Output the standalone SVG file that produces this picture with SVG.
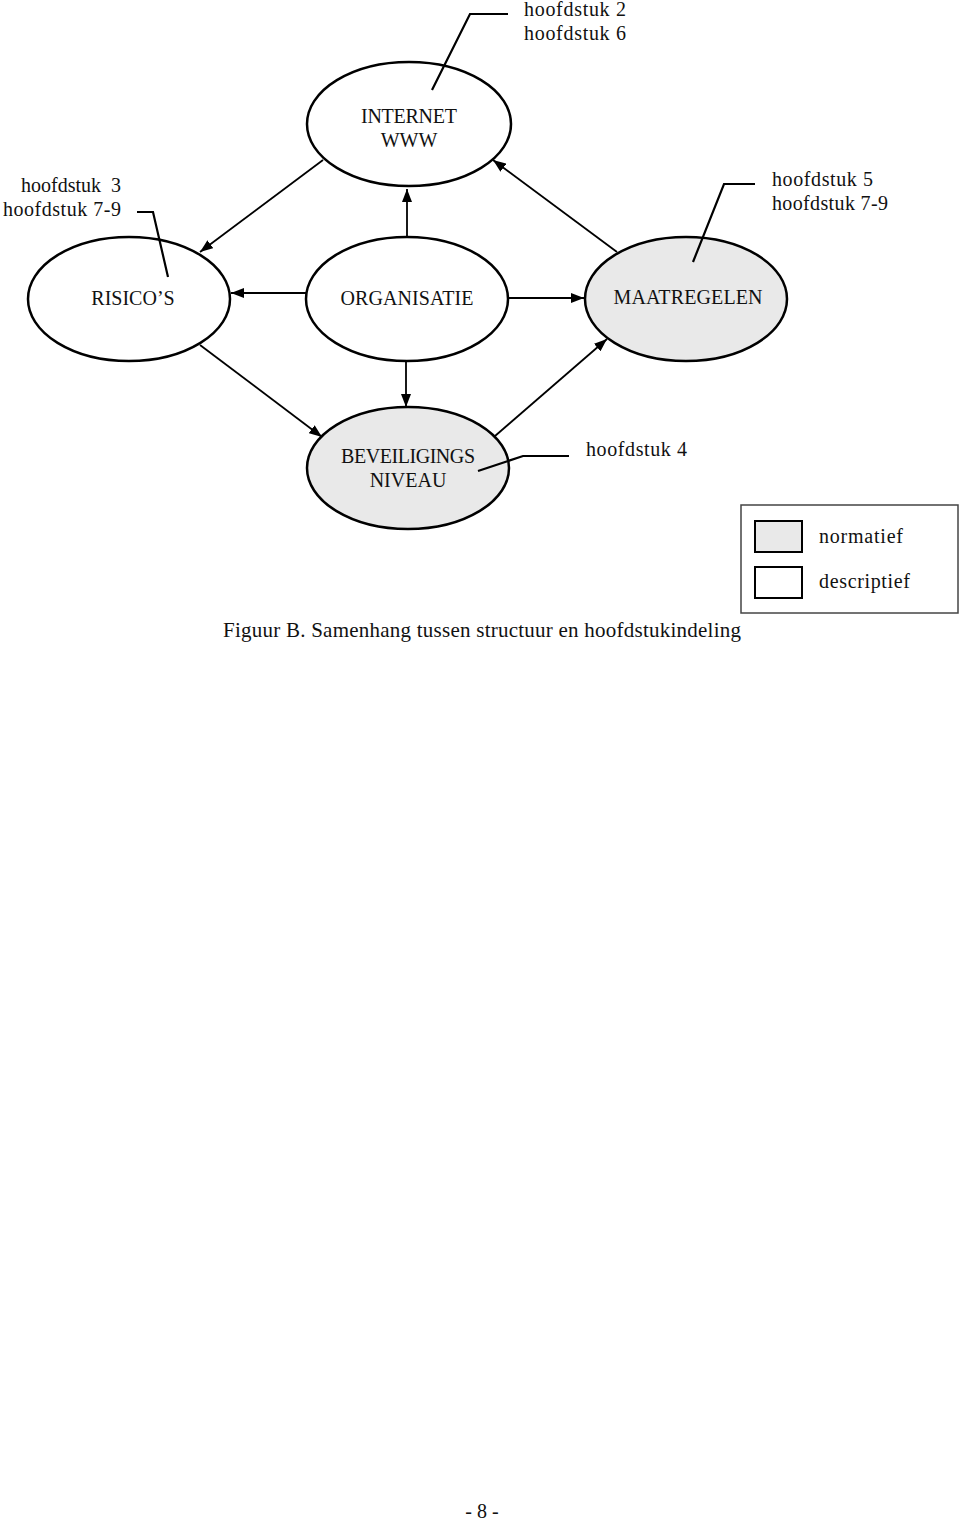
<svg xmlns="http://www.w3.org/2000/svg" width="960" height="1520" viewBox="0 0 960 1520">
<style>
.node{stroke:#000;stroke-width:2.5}
.wh{fill:#fff}
.gr{fill:#e9e9e9}
.t{font-family:"Liberation Serif","Times New Roman",serif;font-size:20px;fill:#111}
.c{text-anchor:middle}
.e{text-anchor:end}
.conn line{stroke:#000;stroke-width:1.8}
.call{fill:none;stroke:#000;stroke-width:2.2}
</style>
<defs>
<marker id="ah" viewBox="0 0 13 10" refX="13" refY="5" markerWidth="13" markerHeight="10" markerUnits="userSpaceOnUse" orient="auto">
<path d="M0,0 L13,5 L0,10 z" fill="#000"/>
</marker>
</defs>
<rect width="960" height="1520" fill="#fff"/>

<g id="connectors" class="conn">
<line x1="323" y1="160" x2="200" y2="252" marker-end="url(#ah)"/>
<line x1="407" y1="237" x2="407" y2="189" marker-end="url(#ah)"/>
<line x1="617" y1="252" x2="493" y2="160" marker-end="url(#ah)"/>
<line x1="307" y1="293" x2="231" y2="293" marker-end="url(#ah)"/>
<line x1="508" y1="298" x2="584" y2="298" marker-end="url(#ah)"/>
<line x1="200" y1="345" x2="322" y2="437" marker-end="url(#ah)"/>
<line x1="406" y1="361" x2="406" y2="407" marker-end="url(#ah)"/>
<line x1="495" y1="436" x2="607" y2="339" marker-end="url(#ah)"/>
</g>

<g id="internet">
<ellipse class="node wh" cx="409" cy="124" rx="102" ry="62"/>
<text class="t c" x="409" y="123" textLength="96">INTERNET</text>
<text class="t c" x="409" y="147">WWW</text>
</g>
<g id="risicos">
<ellipse class="node wh" cx="129" cy="299" rx="101" ry="62"/>
<text class="t c" x="133" y="305">RISICO’S</text>
</g>
<g id="organisatie">
<ellipse class="node wh" cx="407" cy="299" rx="101" ry="62"/>
<text class="t c" x="407" y="305" textLength="133">ORGANISATIE</text>
</g>
<g id="maatregelen">
<ellipse class="node gr" cx="686" cy="299" rx="101" ry="62"/>
<text class="t c" x="688" y="304" textLength="149">MAATREGELEN</text>
</g>
<g id="beveiligingsniveau">
<ellipse class="node gr" cx="408" cy="468" rx="101" ry="61"/>
<text class="t c" x="408" y="463" textLength="134">BEVEILIGINGS</text>
<text class="t c" x="408" y="487">NIVEAU</text>
</g>

<g id="callout-internet">
<polyline class="call" points="432,90 470,14 508,14"/>
<text class="t" x="524" y="16" textLength="102">hoofdstuk 2</text>
<text class="t" x="524" y="40" textLength="102">hoofdstuk 6</text>
</g>
<g id="callout-risicos">
<polyline class="call" points="137,212 153,212 168,277"/>
<text class="t e" x="121" y="192" xml:space="preserve">hoofdstuk  3</text>
<text class="t e" x="121" y="216" textLength="118">hoofdstuk 7-9</text>
</g>
<g id="callout-maatregelen">
<polyline class="call" points="693,262 724,184 755,184"/>
<text class="t" x="772" y="186" textLength="101">hoofdstuk 5</text>
<text class="t" x="772" y="210" textLength="116">hoofdstuk 7-9</text>
</g>
<g id="callout-beveiliging">
<polyline class="call" points="478,471 523,456 569,456"/>
<text class="t" x="586" y="456" textLength="101">hoofdstuk 4</text>
</g>

<g id="legend">
<rect x="741" y="505" width="217" height="108" fill="#fff" stroke="#444" stroke-width="1.5"/>
<rect x="755" y="521" width="47" height="31" fill="#e9e9e9" stroke="#000" stroke-width="2"/>
<rect x="755" y="567" width="47" height="31" fill="#fff" stroke="#000" stroke-width="2"/>
<text class="t" x="819" y="543" textLength="84">normatief</text>
<text class="t" x="819" y="588" textLength="91">descriptief</text>
</g>

<text class="t" x="223" y="637" textLength="518" style="font-size:21px">Figuur B. Samenhang tussen structuur en hoofdstukindeling</text>
<text class="t" x="482" y="1518" text-anchor="middle">- 8 -</text>
</svg>
